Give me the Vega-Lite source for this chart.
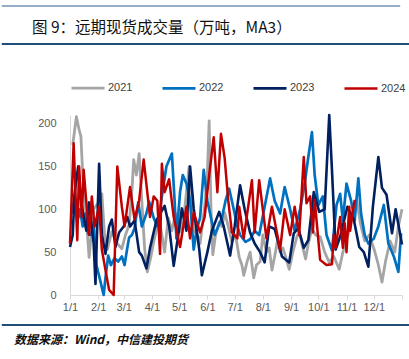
{
"$schema": "https://vega.github.io/schema/vega-lite/v6.json",
"padding": {"top": 5, "left": 0, "right": 0, "bottom": 0},
"spacing": 0,
"resolve": {"legend": {"color": "independent", "strokeWidth": "independent"}},
"config": {"view": {"stroke": null}, "font": "Liberation Sans"},
"vconcat": [
{"width": 332, "height": 14, "data": {"values": [{"a": -75, "b": 363, "v": 1}]},
 "mark": {"type": "rule", "color": "#2E5E8E", "strokeWidth": 1.2},
 "encoding": {
  "x": {"field": "a", "type": "quantitative", "scale": {"domain": [0, 365], "nice": false, "zero": false}, "axis": null},
  "x2": {"field": "b"},
  "y": {"field": "v", "type": "quantitative", "scale": {"domain": [0, 1]}, "axis": null}}},
{"width": 332, "height": 26, "data": {"values": [{"a": -75, "b": 374, "v": 1}]},
 "title": {"text": "图 9：远期现货成交量（万吨，MA3）", "anchor": "start", "frame": "group", "orient": "top", "offset": 7, "fontSize": 15.5, "font": "Noto Sans CJK SC", "fontWeight": "normal", "color": "#111111", "dx": -38},
 "mark": {"type": "rule", "color": "#1F4E79", "strokeWidth": 2},
 "encoding": {
  "x": {"field": "a", "type": "quantitative", "scale": {"domain": [0, 365], "nice": false, "zero": false}, "axis": null},
  "x2": {"field": "b"},
  "y": {"field": "v", "type": "quantitative", "scale": {"domain": [0, 1]}, "axis": null}}},
{"width": 332, "height": 180,
 "data": {"values": [
{"s":"2021","d":3,"v":175},{"s":"2021","d":7,"v":208},{"s":"2021","d":10,"v":193},{"s":"2021","d":12,"v":185},{"s":"2021","d":14,"v":140},{"s":"2021","d":17,"v":103},{"s":"2021","d":21,"v":44},{"s":"2021","d":26,"v":100},{"s":"2021","d":32,"v":109},{"s":"2021","d":35,"v":118},{"s":"2021","d":38,"v":70},{"s":"2021","d":41,"v":53},{"s":"2021","d":46,"v":74},{"s":"2021","d":52,"v":60},{"s":"2021","d":57,"v":54},{"s":"2021","d":61,"v":70},{"s":"2021","d":65,"v":82},{"s":"2021","d":68,"v":120},{"s":"2021","d":70,"v":158},{"s":"2021","d":73,"v":140},{"s":"2021","d":76,"v":165},{"s":"2021","d":79,"v":109},{"s":"2021","d":82,"v":55},{"s":"2021","d":85,"v":27},{"s":"2021","d":89,"v":45},{"s":"2021","d":92,"v":62},{"s":"2021","d":98,"v":89},{"s":"2021","d":101,"v":70},{"s":"2021","d":104,"v":50},{"s":"2021","d":108,"v":90},{"s":"2021","d":112,"v":75},{"s":"2021","d":116,"v":95},{"s":"2021","d":121,"v":74},{"s":"2021","d":126,"v":100},{"s":"2021","d":131,"v":150},{"s":"2021","d":134,"v":110},{"s":"2021","d":137,"v":75},{"s":"2021","d":140,"v":70},{"s":"2021","d":143,"v":60},{"s":"2021","d":148,"v":103},{"s":"2021","d":151,"v":140},{"s":"2021","d":153,"v":203},{"s":"2021","d":155,"v":100},{"s":"2021","d":157,"v":47},{"s":"2021","d":160,"v":70},{"s":"2021","d":164,"v":85},{"s":"2021","d":167,"v":80},{"s":"2021","d":170,"v":96},{"s":"2021","d":174,"v":80},{"s":"2021","d":178,"v":62},{"s":"2021","d":182,"v":70},{"s":"2021","d":186,"v":44},{"s":"2021","d":189,"v":35},{"s":"2021","d":191,"v":23},{"s":"2021","d":195,"v":40},{"s":"2021","d":198,"v":50},{"s":"2021","d":202,"v":20},{"s":"2021","d":205,"v":35},{"s":"2021","d":209,"v":39},{"s":"2021","d":212,"v":70},{"s":"2021","d":216,"v":50},{"s":"2021","d":219,"v":55},{"s":"2021","d":222,"v":29},{"s":"2021","d":225,"v":45},{"s":"2021","d":228,"v":63},{"s":"2021","d":231,"v":50},{"s":"2021","d":234,"v":55},{"s":"2021","d":237,"v":45},{"s":"2021","d":241,"v":30},{"s":"2021","d":245,"v":50},{"s":"2021","d":250,"v":70},{"s":"2021","d":253,"v":69},{"s":"2021","d":256,"v":55},{"s":"2021","d":259,"v":42},{"s":"2021","d":262,"v":60},{"s":"2021","d":266,"v":77},{"s":"2021","d":270,"v":70},{"s":"2021","d":275,"v":68},{"s":"2021","d":280,"v":50},{"s":"2021","d":285,"v":38},{"s":"2021","d":290,"v":45},{"s":"2021","d":296,"v":30},{"s":"2021","d":300,"v":50},{"s":"2021","d":304,"v":65},{"s":"2021","d":307,"v":75},{"s":"2021","d":311,"v":95},{"s":"2021","d":315,"v":112},{"s":"2021","d":319,"v":85},{"s":"2021","d":324,"v":63},{"s":"2021","d":329,"v":70},{"s":"2021","d":335,"v":51},{"s":"2021","d":339,"v":35},{"s":"2021","d":343,"v":15},{"s":"2021","d":347,"v":40},{"s":"2021","d":352,"v":63},{"s":"2021","d":357,"v":50},{"s":"2021","d":361,"v":80},{"s":"2021","d":365,"v":100},
{"s":"2022","d":2,"v":95},{"s":"2022","d":5,"v":115},{"s":"2022","d":8,"v":85},{"s":"2022","d":11,"v":100},{"s":"2022","d":14,"v":80},{"s":"2022","d":17,"v":95},{"s":"2022","d":20,"v":72},{"s":"2022","d":23,"v":70},{"s":"2022","d":26,"v":82},{"s":"2022","d":29,"v":35},{"s":"2022","d":33,"v":18},{"s":"2022","d":37,"v":0},{"s":"2022","d":39,"v":20},{"s":"2022","d":42,"v":46},{"s":"2022","d":45,"v":35},{"s":"2022","d":49,"v":43},{"s":"2022","d":53,"v":39},{"s":"2022","d":57,"v":45},{"s":"2022","d":60,"v":35},{"s":"2022","d":63,"v":55},{"s":"2022","d":65,"v":67},{"s":"2022","d":68,"v":70},{"s":"2022","d":71,"v":78},{"s":"2022","d":75,"v":108},{"s":"2022","d":79,"v":80},{"s":"2022","d":84,"v":95},{"s":"2022","d":87,"v":109},{"s":"2022","d":92,"v":90},{"s":"2022","d":96,"v":80},{"s":"2022","d":101,"v":115},{"s":"2022","d":106,"v":150},{"s":"2022","d":112,"v":165},{"s":"2022","d":115,"v":110},{"s":"2022","d":117,"v":66},{"s":"2022","d":121,"v":120},{"s":"2022","d":124,"v":140},{"s":"2022","d":128,"v":130},{"s":"2022","d":132,"v":110},{"s":"2022","d":136,"v":53},{"s":"2022","d":139,"v":75},{"s":"2022","d":143,"v":90},{"s":"2022","d":147,"v":146},{"s":"2022","d":151,"v":110},{"s":"2022","d":154,"v":95},{"s":"2022","d":159,"v":70},{"s":"2022","d":163,"v":80},{"s":"2022","d":167,"v":90},{"s":"2022","d":171,"v":110},{"s":"2022","d":175,"v":124},{"s":"2022","d":180,"v":100},{"s":"2022","d":184,"v":80},{"s":"2022","d":187,"v":70},{"s":"2022","d":193,"v":62},{"s":"2022","d":198,"v":65},{"s":"2022","d":203,"v":75},{"s":"2022","d":208,"v":70},{"s":"2022","d":214,"v":103},{"s":"2022","d":220,"v":136},{"s":"2022","d":225,"v":110},{"s":"2022","d":231,"v":95},{"s":"2022","d":236,"v":126},{"s":"2022","d":242,"v":100},{"s":"2022","d":247,"v":75},{"s":"2022","d":253,"v":100},{"s":"2022","d":258,"v":130},{"s":"2022","d":262,"v":161},{"s":"2022","d":266,"v":190},{"s":"2022","d":269,"v":140},{"s":"2022","d":273,"v":105},{"s":"2022","d":278,"v":115},{"s":"2022","d":282,"v":70},{"s":"2022","d":288,"v":52},{"s":"2022","d":293,"v":105},{"s":"2022","d":297,"v":118},{"s":"2022","d":300,"v":87},{"s":"2022","d":304,"v":130},{"s":"2022","d":309,"v":110},{"s":"2022","d":313,"v":87},{"s":"2022","d":317,"v":136},{"s":"2022","d":320,"v":95},{"s":"2022","d":324,"v":70},{"s":"2022","d":328,"v":60},{"s":"2022","d":334,"v":66},{"s":"2022","d":339,"v":80},{"s":"2022","d":345,"v":105},{"s":"2022","d":350,"v":60},{"s":"2022","d":356,"v":45},{"s":"2022","d":361,"v":27},{"s":"2022","d":364,"v":72},
{"s":"2023","d":0,"v":56},{"s":"2023","d":3,"v":70},{"s":"2023","d":5,"v":118},{"s":"2023","d":9,"v":150},{"s":"2023","d":11,"v":120},{"s":"2023","d":15,"v":91},{"s":"2023","d":18,"v":75},{"s":"2023","d":21,"v":108},{"s":"2023","d":26,"v":60},{"s":"2023","d":28,"v":13},{"s":"2023","d":32,"v":153},{"s":"2023","d":35,"v":71},{"s":"2023","d":39,"v":48},{"s":"2023","d":43,"v":80},{"s":"2023","d":46,"v":88},{"s":"2023","d":50,"v":56},{"s":"2023","d":54,"v":73},{"s":"2023","d":59,"v":80},{"s":"2023","d":63,"v":91},{"s":"2023","d":66,"v":80},{"s":"2023","d":71,"v":87},{"s":"2023","d":76,"v":50},{"s":"2023","d":79,"v":46},{"s":"2023","d":84,"v":31},{"s":"2023","d":88,"v":55},{"s":"2023","d":95,"v":87},{"s":"2023","d":104,"v":104},{"s":"2023","d":109,"v":80},{"s":"2023","d":114,"v":34},{"s":"2023","d":120,"v":77},{"s":"2023","d":123,"v":101},{"s":"2023","d":128,"v":75},{"s":"2023","d":132,"v":150},{"s":"2023","d":136,"v":101},{"s":"2023","d":142,"v":54},{"s":"2023","d":145,"v":23},{"s":"2023","d":151,"v":50},{"s":"2023","d":156,"v":75},{"s":"2023","d":164,"v":97},{"s":"2023","d":169,"v":80},{"s":"2023","d":176,"v":46},{"s":"2023","d":181,"v":80},{"s":"2023","d":187,"v":128},{"s":"2023","d":192,"v":100},{"s":"2023","d":198,"v":73},{"s":"2023","d":203,"v":60},{"s":"2023","d":209,"v":50},{"s":"2023","d":214,"v":38},{"s":"2023","d":219,"v":80},{"s":"2023","d":225,"v":77},{"s":"2023","d":233,"v":45},{"s":"2023","d":241,"v":38},{"s":"2023","d":246,"v":72},{"s":"2023","d":251,"v":78},{"s":"2023","d":257,"v":55},{"s":"2023","d":262,"v":64},{"s":"2023","d":268,"v":120},{"s":"2023","d":274,"v":97},{"s":"2023","d":280,"v":100},{"s":"2023","d":285,"v":210},{"s":"2023","d":288,"v":146},{"s":"2023","d":292,"v":53},{"s":"2023","d":297,"v":68},{"s":"2023","d":305,"v":103},{"s":"2023","d":312,"v":88},{"s":"2023","d":318,"v":56},{"s":"2023","d":323,"v":50},{"s":"2023","d":328,"v":33},{"s":"2023","d":333,"v":103},{"s":"2023","d":339,"v":161},{"s":"2023","d":343,"v":125},{"s":"2023","d":348,"v":117},{"s":"2023","d":354,"v":72},{"s":"2023","d":358,"v":100},{"s":"2023","d":365,"v":59},
{"s":"2024","d":0,"v":60},{"s":"2024","d":4,"v":177},{"s":"2024","d":8,"v":64},{"s":"2024","d":10,"v":150},{"s":"2024","d":13,"v":91},{"s":"2024","d":15,"v":146},{"s":"2024","d":21,"v":70},{"s":"2024","d":24,"v":115},{"s":"2024","d":27,"v":80},{"s":"2024","d":32,"v":103},{"s":"2024","d":35,"v":53},{"s":"2024","d":39,"v":29},{"s":"2024","d":43,"v":6},{"s":"2024","d":48,"v":0},{"s":"2024","d":52,"v":150},{"s":"2024","d":57,"v":103},{"s":"2024","d":60,"v":80},{"s":"2024","d":66,"v":126},{"s":"2024","d":71,"v":88},{"s":"2024","d":76,"v":110},{"s":"2024","d":81,"v":158},{"s":"2024","d":88,"v":91},{"s":"2024","d":92,"v":115},{"s":"2024","d":96,"v":110},{"s":"2024","d":99,"v":48},{"s":"2024","d":101,"v":153},{"s":"2024","d":104,"v":120},{"s":"2024","d":109,"v":135},{"s":"2024","d":114,"v":91},{"s":"2024","d":121,"v":56},{"s":"2024","d":128,"v":103},{"s":"2024","d":132,"v":66},{"s":"2024","d":136,"v":96},{"s":"2024","d":143,"v":73},{"s":"2024","d":148,"v":91},{"s":"2024","d":153,"v":140},{"s":"2024","d":158,"v":184},{"s":"2024","d":162,"v":120},{"s":"2024","d":166,"v":188},{"s":"2024","d":170,"v":160},{"s":"2024","d":174,"v":110},{"s":"2024","d":178,"v":73},{"s":"2024","d":184,"v":66},{"s":"2024","d":186,"v":103},{"s":"2024","d":191,"v":66},{"s":"2024","d":200,"v":134},{"s":"2024","d":203,"v":73},{"s":"2024","d":208,"v":134},{"s":"2024","d":213,"v":91},{"s":"2024","d":216,"v":66},{"s":"2024","d":222,"v":103},{"s":"2024","d":231,"v":53},{"s":"2024","d":236,"v":100},{"s":"2024","d":242,"v":70},{"s":"2024","d":247,"v":103},{"s":"2024","d":252,"v":70},{"s":"2024","d":257,"v":161},{"s":"2024","d":260,"v":107},{"s":"2024","d":264,"v":115},{"s":"2024","d":267,"v":73},{"s":"2024","d":269,"v":111},{"s":"2024","d":275,"v":41},{"s":"2024","d":282,"v":35},{"s":"2024","d":288,"v":36},{"s":"2024","d":290,"v":70},{"s":"2024","d":292,"v":55},{"s":"2024","d":297,"v":91},{"s":"2024","d":300,"v":55},{"s":"2024","d":302,"v":84},{"s":"2024","d":304,"v":50},{"s":"2024","d":307,"v":103},{"s":"2024","d":308,"v":75},{"s":"2024","d":310,"v":91},{"s":"2024","d":313,"v":111}
 ]},
 "mark": {"type": "line", "strokeJoin": "round"},
 "encoding": {
  "x": {"field": "d", "type": "quantitative", "scale": {"domain": [0, 365], "nice": false, "zero": false},
   "axis": {"title": null, "values": [0,31,59,90,120,151,181,212,243,273,304,334,365], "labelExpr": "datum.value == 365 ? '' : (indexof([0,31,59,90,120,151,181,212,243,273,304,334], datum.value) + 1) + '/1'", "grid": false, "domainColor": "#D9D9D9", "tickColor": "#D9D9D9", "tickSize": 4, "labelFontSize": 11, "labelColor": "#595959", "labelPadding": 2, "labelFlush": false, "labelOverlap": false}},
  "y": {"field": "v", "type": "quantitative", "scale": {"domain": [0, 210], "nice": false},
   "axis": {"title": null, "values": [0,50,100,150,200], "grid": false, "ticks": false, "domainColor": "#D9D9D9", "labelPadding": 14, "labelFontSize": 11, "labelColor": "#595959", "minExtent": 68, "maxExtent": 68}},
  "color": {"field": "s", "type": "nominal", "scale": {"domain": ["2021","2022","2023","2024"], "range": ["#A5A5A5","#0070C0","#002060","#C00000"]},
   "legend": {"title": null, "orient": "top", "direction": "horizontal", "symbolType": "stroke", "symbolSize": 1089, "labelFontSize": 11, "labelColor": "#404040", "columnPadding": 24, "labelOffset": 2, "offset": 19}},
  "strokeWidth": {"field": "s", "type": "nominal", "scale": {"domain": ["2021","2022","2023","2024"], "range": [2.8, 2.5, 2.5, 4.5]},
   "legend": {"title": null, "orient": "top", "direction": "horizontal", "symbolType": "stroke", "symbolSize": 1089, "labelFontSize": 11, "labelColor": "#404040", "columnPadding": 24, "labelOffset": 2, "offset": 19}}
 }},
{"width": 332, "height": 13, "data": {"values": [{"a": -75, "b": 375, "v": 0}]},
 "title": {"text": "数据来源：Wind，中信建投期货", "orient": "bottom", "anchor": "start", "frame": "group", "offset": 9, "fontSize": 12, "fontStyle": "italic", "fontWeight": "bold", "font": "Noto Sans CJK SC", "color": "#111111", "dx": -56},
 "mark": {"type": "rule", "color": "#1F4E79", "strokeWidth": 2},
 "encoding": {
  "x": {"field": "a", "type": "quantitative", "scale": {"domain": [0, 365], "nice": false, "zero": false}, "axis": null},
  "x2": {"field": "b"},
  "y": {"field": "v", "type": "quantitative", "scale": {"domain": [0, 1]}, "axis": null}}}
]
}
